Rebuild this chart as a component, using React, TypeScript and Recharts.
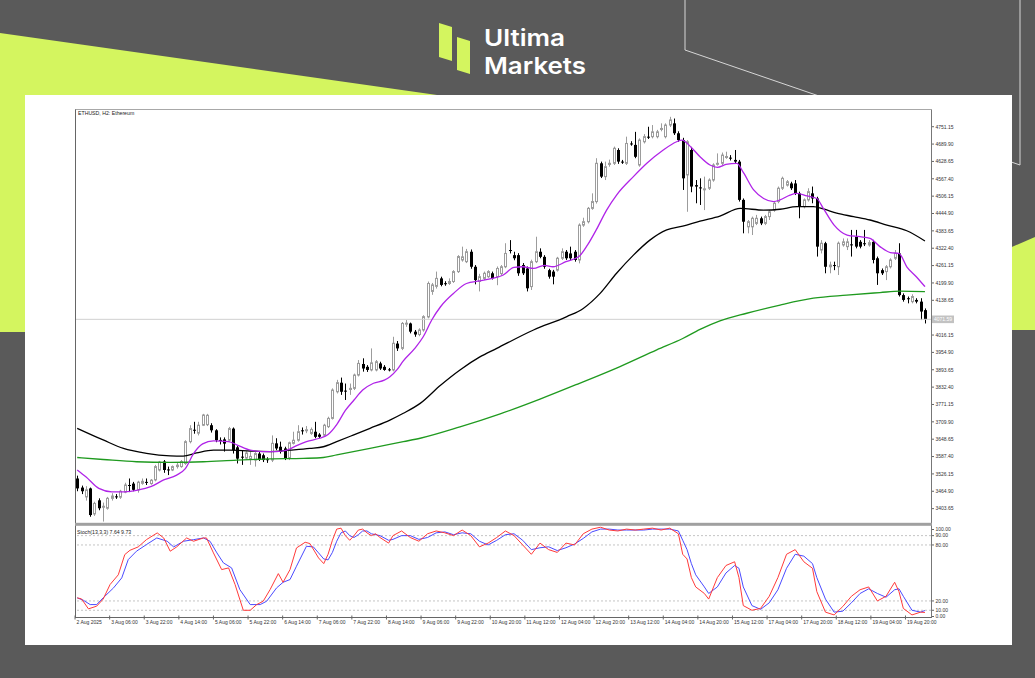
import React from 'react';
import { ComposedChart, LineChart, Bar, Line, XAxis, YAxis, ReferenceLine } from 'recharts';

const W = 1035;
const H = 678;
const LEFT = 75;
const AXIS_X = 931;
const Y_AXIS_W = 40;
const RIGHT = W - AXIS_X - Y_AXIS_W;
const MAIN_TOP = 110;
const MAIN_BOTTOM = 522;
const STO_TOP = 526.3;
const STO_BOTTOM = 619.6;
const X_DOMAIN: [number, number] = [-0.51, 197.4];
const PRICE_DOMAIN: [number, number] = [3356.5, 4810.1];
const FONT = '"Liberation Sans", Arial, sans-serif';
const LIME = '#d4f55f';
const DARK = '#5a5a5a';

// ETHUSD H2 candles, [open, high, low, close], first bar = 2 Aug 2025
const candles: number[][] = [
  [3510, 3520, 3465, 3475], [3478, 3485, 3455, 3465], [3445, 3483, 3432, 3470], [3475, 3478, 3375, 3381],
  [3385, 3428, 3378, 3422], [3433, 3440, 3398, 3405], [3410, 3425, 3358, 3412], [3405, 3445, 3400, 3440],
  [3440, 3458, 3432, 3448], [3447, 3455, 3438, 3444], [3444, 3470, 3438, 3465], [3462, 3495, 3458, 3487],
  [3487, 3510, 3462, 3485], [3492, 3498, 3465, 3470], [3470, 3502, 3460, 3497], [3493, 3510, 3488, 3500],
  [3498, 3510, 3487, 3497], [3492, 3508, 3488, 3504], [3505, 3558, 3500, 3552], [3540, 3572, 3535, 3568],
  [3570, 3575, 3530, 3540], [3542, 3552, 3522, 3540], [3540, 3556, 3536, 3552], [3552, 3565, 3545, 3557],
  [3552, 3575, 3548, 3570], [3563, 3645, 3558, 3640], [3640, 3698, 3634, 3686], [3682, 3710, 3668, 3680],
  [3670, 3710, 3662, 3698], [3698, 3738, 3695, 3734], [3700, 3738, 3695, 3733], [3698, 3705, 3672, 3680],
  [3680, 3684, 3638, 3645], [3646, 3655, 3630, 3643], [3648, 3655, 3605, 3633], [3645, 3692, 3640, 3686],
  [3686, 3690, 3598, 3610], [3620, 3625, 3563, 3580], [3587, 3610, 3558, 3585], [3582, 3606, 3576, 3600],
  [3580, 3604, 3558, 3588], [3575, 3603, 3552, 3598], [3598, 3605, 3572, 3578], [3592, 3598, 3568, 3575],
  [3578, 3585, 3565, 3575], [3575, 3662, 3568, 3634], [3634, 3652, 3610, 3616], [3622, 3640, 3598, 3604],
  [3616, 3622, 3575, 3580], [3582, 3640, 3575, 3636], [3634, 3675, 3630, 3645], [3645, 3698, 3640, 3675],
  [3680, 3690, 3665, 3678], [3679, 3695, 3670, 3682], [3669, 3690, 3664, 3683], [3675, 3710, 3652, 3657],
  [3665, 3670, 3652, 3657], [3663, 3703, 3657, 3698], [3693, 3728, 3688, 3722], [3722, 3828, 3718, 3822],
  [3816, 3858, 3810, 3848], [3848, 3866, 3805, 3816], [3820, 3845, 3787, 3818], [3824, 3845, 3805, 3828],
  [3828, 3880, 3822, 3875], [3875, 3928, 3870, 3916], [3914, 3934, 3887, 3898], [3904, 3910, 3886, 3893],
  [3893, 3969, 3888, 3918], [3893, 3928, 3888, 3922], [3916, 3922, 3893, 3898], [3904, 3910, 3890, 3893],
  [3895, 3900, 3888, 3894], [3893, 4010, 3888, 3987], [3986, 3995, 3960, 3969], [3969, 4062, 3963, 4057],
  [4056, 4069, 4045, 4058], [4057, 4060, 4022, 4028], [4028, 4034, 4010, 4018], [4018, 4040, 4012, 4034],
  [4034, 4086, 4028, 4081], [4080, 4205, 4075, 4198], [4170, 4200, 4158, 4193], [4188, 4240, 4180, 4216],
  [4216, 4222, 4188, 4193], [4199, 4206, 4190, 4198], [4198, 4216, 4193, 4205], [4205, 4245, 4200, 4240],
  [4240, 4298, 4235, 4293], [4281, 4328, 4275, 4292], [4275, 4320, 4270, 4310], [4310, 4318, 4250, 4257],
  [4257, 4263, 4195, 4210], [4205, 4232, 4170, 4222], [4216, 4240, 4210, 4234], [4222, 4245, 4218, 4240],
  [4234, 4240, 4212, 4216], [4222, 4258, 4192, 4251], [4233, 4263, 4228, 4257], [4257, 4340, 4252, 4304],
  [4316, 4351, 4304, 4314], [4298, 4310, 4280, 4287], [4298, 4305, 4225, 4234], [4263, 4270, 4228, 4234],
  [4251, 4258, 4170, 4181], [4187, 4282, 4175, 4275], [4275, 4363, 4270, 4310], [4310, 4322, 4287, 4292],
  [4292, 4298, 4250, 4257], [4245, 4250, 4215, 4222], [4240, 4246, 4195, 4222], [4245, 4292, 4240, 4287],
  [4287, 4322, 4281, 4310], [4310, 4316, 4281, 4287], [4304, 4328, 4281, 4287], [4310, 4316, 4275, 4281],
  [4281, 4410, 4269, 4404], [4404, 4430, 4398, 4416], [4416, 4468, 4410, 4463], [4463, 4516, 4458, 4487],
  [4487, 4640, 4480, 4622], [4622, 4628, 4570, 4575], [4575, 4628, 4563, 4610], [4618, 4635, 4610, 4622],
  [4622, 4681, 4616, 4675], [4669, 4675, 4620, 4628], [4628, 4634, 4620, 4627], [4622, 4716, 4616, 4692],
  [4692, 4700, 4684, 4691], [4687, 4733, 4640, 4645], [4616, 4710, 4610, 4704], [4698, 4725, 4692, 4716],
  [4716, 4751, 4708, 4714], [4716, 4757, 4710, 4733], [4716, 4740, 4710, 4733], [4743, 4763, 4735, 4745],
  [4716, 4763, 4710, 4757], [4757, 4786, 4750, 4775], [4763, 4780, 4722, 4728], [4728, 4735, 4698, 4704],
  [4704, 4712, 4528, 4569], [4581, 4704, 4451, 4698], [4669, 4680, 4520, 4540], [4545, 4563, 4481, 4540],
  [4537, 4569, 4475, 4534], [4531, 4575, 4457, 4532], [4534, 4569, 4528, 4563], [4563, 4622, 4557, 4616],
  [4620, 4657, 4614, 4622], [4622, 4660, 4616, 4651], [4645, 4663, 4638, 4646], [4642, 4651, 4632, 4640],
  [4634, 4669, 4622, 4628], [4628, 4634, 4487, 4493], [4493, 4498, 4375, 4416], [4398, 4422, 4375, 4416],
  [4398, 4434, 4369, 4428], [4410, 4440, 4404, 4428], [4428, 4434, 4404, 4410], [4410, 4440, 4404, 4434],
  [4434, 4457, 4422, 4451], [4457, 4487, 4451, 4481], [4487, 4540, 4481, 4534], [4534, 4575, 4528, 4569],
  [4545, 4563, 4540, 4557], [4551, 4557, 4528, 4534], [4551, 4563, 4510, 4516], [4516, 4522, 4428, 4469],
  [4469, 4498, 4463, 4493], [4493, 4534, 4487, 4522], [4516, 4540, 4481, 4498], [4498, 4504, 4293, 4328],
  [4316, 4351, 4304, 4340], [4340, 4345, 4234, 4257], [4257, 4275, 4234, 4263], [4263, 4275, 4245, 4260],
  [4257, 4346, 4228, 4340], [4334, 4357, 4328, 4345], [4328, 4357, 4316, 4345], [4336, 4387, 4293, 4334],
  [4363, 4387, 4322, 4328], [4345, 4351, 4322, 4328], [4340, 4387, 4330, 4339], [4334, 4351, 4328, 4342],
  [4345, 4352, 4269, 4281], [4287, 4293, 4193, 4234], [4245, 4251, 4228, 4234], [4240, 4263, 4210, 4257],
  [4257, 4287, 4251, 4281], [4287, 4316, 4281, 4304], [4304, 4340, 4152, 4157], [4157, 4163, 4134, 4140],
  [4146, 4152, 4128, 4145], [4134, 4160, 4128, 4152], [4140, 4146, 4128, 4134], [4134, 4146, 4069, 4099],
  [4104, 4110, 4057, 4072],
];

// one label every 8 bars (16 hours)
const timeLabels = [
  '2 Aug 2025', '3 Aug 06:00', '3 Aug 22:00', '4 Aug 14:00', '5 Aug 06:00', '5 Aug 22:00', '6 Aug 14:00',
  '7 Aug 06:00', '7 Aug 22:00', '8 Aug 14:00', '9 Aug 06:00', '9 Aug 22:00', '10 Aug 20:00', '11 Aug 12:00',
  '12 Aug 04:00', '12 Aug 20:00', '13 Aug 12:00', '14 Aug 04:00', '14 Aug 20:00', '15 Aug 12:00',
  '17 Aug 04:00', '17 Aug 20:00', '18 Aug 12:00', '19 Aug 04:00', '19 Aug 20:00',
];
const timeTickPos = timeLabels.map((_, k) => k * 8 - 0.5);

const priceTicks = [
  3403.65, 3464.9, 3526.15, 3587.4, 3648.65, 3709.9, 3771.15, 3832.4, 3893.65, 3954.9, 4016.15,
  4138.65, 4199.9, 4261.15, 4322.4, 4383.65, 4444.9, 4506.15, 4567.4, 4628.65, 4689.9, 4751.15,
];
const lastPrice = 4071.59;

// moving averages, [bar, price]
const maFast: number[][] = [
  [0, 3540], [2, 3516], [5, 3475], [8, 3463], [11, 3463], [14, 3469], [17, 3481], [20, 3505], [23, 3522],
  [25, 3545], [27, 3600], [29, 3632], [31.5, 3643], [35, 3640], [37, 3628], [40, 3610], [43, 3605], [46, 3605],
  [48.5, 3610], [51, 3628], [53, 3640], [56, 3652], [58, 3665], [60, 3700], [62, 3750], [64, 3787], [66, 3822],
  [68.5, 3846], [71, 3857], [72.3, 3869], [74, 3895], [75.4, 3925], [78, 3968], [80, 4010], [82, 4070],
  [84, 4116], [87, 4163], [90, 4198], [93, 4207], [96, 4216], [98.5, 4228], [101, 4255], [103, 4257],
  [105.5, 4251], [108, 4262], [110, 4257], [113, 4275], [116, 4293], [118, 4334], [120, 4387], [122.4, 4457],
  [124.7, 4510], [128.6, 4575], [131.7, 4622], [135.5, 4669], [138.6, 4698], [139.8, 4704], [142, 4678],
  [144, 4645], [146.3, 4616], [148, 4608], [150, 4618], [152.5, 4622], [154, 4590], [156.4, 4528],
  [158.7, 4498], [161, 4487], [162.5, 4493], [164.8, 4510], [166.4, 4516], [168.7, 4507], [171, 4498],
  [172.5, 4463], [175, 4404], [178, 4369], [181, 4363], [183.3, 4357], [185.6, 4328], [188, 4307], [190, 4304],
  [191.8, 4257], [194, 4222], [196, 4187],
];
const maMid: number[][] = [
  [0, 3687], [6, 3646], [10.7, 3616], [16, 3599], [21.5, 3590], [24.5, 3589], [27.6, 3600], [31.5, 3610],
  [35.3, 3610], [40, 3607], [44.6, 3605], [49.2, 3610], [53.8, 3616], [56.9, 3622], [60, 3640], [63.8, 3663],
  [67.7, 3687], [72.3, 3716], [75.4, 3740], [79.3, 3775], [84, 3839], [88.5, 3893], [93, 3938], [97, 3969],
  [105.5, 4034], [113.2, 4081], [117, 4110], [120.9, 4163], [124.7, 4234], [128.6, 4298], [132.4, 4351],
  [136.3, 4387], [140, 4400], [144, 4418], [148.6, 4436], [153.3, 4463], [158.7, 4457], [162.5, 4460],
  [166.4, 4469], [170.2, 4469], [172.5, 4461], [175.6, 4446], [179.5, 4434], [183.3, 4422], [187.2, 4404],
  [191.8, 4384], [196, 4348],
];
const maSlow: number[][] = [
  [0, 3584], [6, 3577], [13.7, 3569], [21.5, 3567], [29.2, 3569], [36.9, 3575], [44.6, 3579], [52.3, 3581],
  [56.9, 3584], [60, 3593], [67.7, 3616], [75.4, 3640], [79.3, 3652], [88.5, 3692], [97.8, 3738], [107, 3790],
  [116, 3845], [125.5, 3905], [134, 3964], [140, 4004], [144, 4036], [148.6, 4066], [154.8, 4093],
  [162.5, 4122], [170.2, 4146], [177.9, 4157], [185.6, 4166], [190.2, 4171], [196, 4169],
];

// Stochastic(13,3,3), [bar, value]
const stochMain: number[][] = [
  [0, 23.3], [1, 22.2], [2.6, 11.5], [4.5, 14.4], [6, 22], [7.6, 37.6], [9.5, 48], [11, 69.7], [12.2, 74.3],
  [14.1, 77.9], [16, 85.7], [18.5, 92.9], [20, 87.5], [21.5, 73.3], [23, 77.9], [25.3, 87.5], [26.9, 84],
  [29.2, 87.5], [29.9, 87.5], [31.5, 71.5], [33.4, 53.6], [35, 55.4], [36.5, 37.6], [38.4, 10], [40, 10],
  [41.5, 16.1], [43, 19.7], [44.6, 32.2], [46.5, 49.3], [47.6, 40], [49.2, 53.6], [50.7, 76.8], [52.7, 82.9],
  [53.8, 81.5], [55.8, 66.1], [57, 60], [58, 70], [59, 85], [60, 97], [61, 98], [62, 90], [63, 85], [64, 90],
  [65, 96], [66, 97], [67, 93], [68, 90], [69, 92], [70, 88], [72, 82], [73, 90], [75, 95], [77, 88], [79, 84],
  [81, 92], [83, 95], [85, 93], [87, 90], [89, 96], [91, 90], [93, 78], [95, 82], [97, 88], [99, 95], [101, 90],
  [103, 80], [105, 70], [107, 82], [109, 75], [111, 72], [113, 82], [115, 80], [117, 92], [119, 97], [121, 99],
  [123, 96], [125, 95], [127, 97], [129, 96], [131, 97], [133, 98], [135, 96], [137, 98], [139, 92], [140, 70],
  [141, 65], [142, 45], [143, 35], [145, 28], [146, 22], [148, 45], [150, 58], [152, 62], [153, 45], [154, 15],
  [156, 10], [158, 12], [160, 25], [162, 45], [164, 70], [166, 75], [168, 62], [170, 55], [171, 30], [173, 8],
  [175, 5], [177, 14], [179, 25], [181, 32], [183, 35], [185, 20], [187, 25], [189, 40], [190, 30], [191, 12],
  [193, 5], [195, 8], [196, 7.64],
];
const stochSignal: number[][] = [
  [0, 23.3], [1.4, 20.8], [3, 16.1], [4.5, 16.1], [6, 23.3], [8.4, 34], [10.3, 44.7], [11.8, 64.3], [13.7, 73.3],
  [16, 80.4], [18.4, 87.5], [20.8, 84], [22.3, 77.9], [24.6, 84], [26.9, 85.7], [29.2, 87.5], [30.7, 84],
  [32.3, 71.5], [33.8, 60.8], [35.7, 55.4], [37.6, 32.2], [40, 16.1], [42.3, 16.1], [43.8, 19.7], [46.1, 34],
  [47.6, 40], [49.2, 42.9], [50.7, 57.2], [53, 78.6], [54.6, 77.9], [55.8, 71.5], [57, 65], [58, 64], [59, 72],
  [60, 84], [61, 93], [62, 95], [63, 90], [64, 88], [65, 91], [66, 95], [67, 95], [68, 92], [70, 90], [72, 85],
  [73, 86], [75, 90], [77, 90], [79, 86], [81, 88], [83, 93], [85, 94], [87, 91], [89, 93], [91, 92], [93, 84],
  [95, 80], [97, 85], [99, 91], [101, 92], [103, 85], [105, 75], [107, 77], [109, 78], [111, 74], [113, 77],
  [115, 81], [117, 87], [119, 94], [121, 97], [123, 97], [125, 96], [127, 96], [129, 96], [131, 96], [133, 97],
  [135, 97], [137, 97], [139, 95], [140, 85], [141, 75], [142, 60], [143, 48], [145, 35], [146, 28], [148, 35],
  [150, 50], [152, 58], [153, 55], [154, 35], [156, 15], [158, 11], [160, 18], [162, 32], [164, 55], [166, 70],
  [168, 68], [170, 60], [171, 45], [173, 22], [175, 8], [177, 9], [179, 18], [181, 28], [183, 33], [185, 28],
  [187, 24], [189, 32], [190, 33], [191, 25], [193, 10], [195, 8], [196, 9.73],
];
const stochTicks = [100, 90, 80, 20, 10, 0];
const stochLevels = [90, 80, 20, 10];

const candleData = candles.map(([o, h, l, c], i) => ({ x: i, o, h, l, c, range: [l, h] }));
const toSeries = (pts: number[][]) => pts.map(([x, v]) => ({ x, v }));

const Candle = (props: any) => {
  const { x, y, width, height, payload } = props;
  if (x == null || y == null || !payload) return null;
  const { o, h, l, c } = payload;
  const top = Math.min(y, y + height);
  const span = Math.abs(height);
  const k = h > l ? span / (h - l) : 0;
  const yO = top + (h - o) * k;
  const yC = top + (h - c) * k;
  const cx = Math.round(x + width / 2) + 0.5;
  const up = c >= o;
  const bTop = Math.min(yO, yC);
  const bH = Math.max(Math.abs(yO - yC), 1);
  if (up) {
    return (
      <g>
        <line x1={cx} x2={cx} y1={top} y2={top + span} stroke="#9c9c9c" />
        <rect x={cx - 1} y={bTop} width={2} height={bH} fill="#fff" stroke="#9c9c9c" />
      </g>
    );
  }
  return (
    <g>
      <line x1={cx} x2={cx} y1={top} y2={top + span} stroke="#000" />
      <rect x={cx - 1.5} y={bTop} width={3} height={bH} fill="#000" />
    </g>
  );
};

const PriceTick = (props: any) => {
  const { x, y, payload } = props;
  const v = payload.value;
  if (v === lastPrice) {
    return (
      <g>
        <rect x={x} y={y - 3.8} width={23} height={7.6} fill="#c2c2c2" />
        <text x={x + 3} y={y + 1.8} fontSize={5} fontFamily={FONT} fill="#fff">{v.toFixed(2)}</text>
      </g>
    );
  }
  return (
    <g>
      <line x1={x} x2={x + 3} y1={y} y2={y} stroke="#666" />
      <text x={x + 4.5} y={y + 1.8} fontSize={5} fontFamily={FONT} fill="#333">{v.toFixed(2)}</text>
    </g>
  );
};

const StochTick = (props: any) => {
  const { x, y, payload } = props;
  const ty = Math.min(Math.max(y, 529.5), 616.5);
  return (
    <g>
      <line x1={x} x2={x + 3} y1={ty} y2={ty} stroke="#666" />
      <text x={x + 4.5} y={ty + 1.8} fontSize={5} fontFamily={FONT} fill="#333">{payload.value.toFixed(2)}</text>
    </g>
  );
};

const TimeTick = (props: any) => {
  const { x, y, payload } = props;
  const idx = Math.round((payload.value + 0.5) / 8);
  return (
    <g>
      <line x1={x} x2={x} y1={y - 2} y2={y + 2} stroke="#666" />
      <text x={x + 1.5} y={y + 6.6} fontSize={5} fontFamily={FONT} fill="#333">{timeLabels[idx]}</text>
    </g>
  );
};

const Backdrop = () => (
  <svg width={W} height={H} style={{ position: 'absolute', left: 0, top: 0 }}>
    <rect width={W} height={H} fill={DARK} />
    <polygon points="0,33 437,95 437,332 0,332" fill={LIME} />
    <polygon points="1005,250 1035,237 1035,330 1005,330" fill={LIME} />
    <polyline points="685,0 685,50 1020,165 1020,0" fill="none" stroke="#d6d6d6" strokeWidth={1} />
    <rect x={25} y={95} width={987} height={550} fill="#fff" />
    <polygon points="439,23 452,27 452,61 439,57" fill={LIME} />
    <polygon points="457,37 470,41 470,74 457,70" fill={LIME} />
    <text x={484} y={45.5} fontSize={23} fontWeight={600} fontFamily="Inter, sans-serif" fill="#fff"
      textLength={81} lengthAdjust="spacingAndGlyphs">Ultima</text>
    <text x={484} y={73.5} fontSize={23} fontWeight={600} fontFamily="Inter, sans-serif" fill="#fff"
      textLength={102} lengthAdjust="spacingAndGlyphs">Markets</text>
  </svg>
);

const Frame = () => (
  <svg width={W} height={H} style={{ position: 'absolute', left: 0, top: 0, pointerEvents: 'none' }}>
    <line x1={LEFT} x2={AXIS_X + 0.5} y1={109.5} y2={109.5} stroke="#a8a8a8" />
    <line x1={LEFT + 0.5} x2={LEFT + 0.5} y1={109.5} y2={618} stroke="#666" />
    <line x1={AXIS_X + 0.5} x2={AXIS_X + 0.5} y1={109.5} y2={618} stroke="#777" />
    <rect x={LEFT} y={522.8} width={AXIS_X - LEFT + 1} height={3} fill="#a0a0a0" />
    <line x1={LEFT} x2={AXIS_X + 0.5} y1={617.5} y2={617.5} stroke="#666" />
    <text x={78} y={115} fontSize={5.2} fontFamily={FONT} fill="#222">ETHUSD, H2: Ethereum</text>
    <text x={77} y={533.5} fontSize={5.2} fontFamily={FONT} fill="#222">Stoch(13,3,3) 7.64 9.73</text>
  </svg>
);

export default function App() {
  return (
    <div style={{ position: 'absolute', left: 0, top: 0, width: W, height: H, overflow: 'hidden', background: DARK }}>
      <Backdrop />
      <div style={{ position: 'absolute', left: 0, top: 0 }}>
        <ComposedChart
          width={W}
          height={H}
          data={candleData}
          margin={{ top: MAIN_TOP, bottom: H - MAIN_BOTTOM, left: LEFT, right: RIGHT }}
        >
          <XAxis dataKey="x" type="number" domain={X_DOMAIN} allowDataOverflow hide />
          <YAxis
            orientation="right"
            width={Y_AXIS_W}
            domain={PRICE_DOMAIN}
            allowDataOverflow
            ticks={[...priceTicks, lastPrice]}
            interval={0}
            tick={(p: any) => <PriceTick {...p} />}
            tickLine={false}
            tickSize={0}
            tickMargin={0}
            axisLine={false}
          />
          <ReferenceLine y={lastPrice} stroke="#d0d0d0" />
          <Bar dataKey="range" barSize={3} shape={(p: any) => <Candle {...p} />} isAnimationActive={false} />
          <Line data={toSeries(maSlow)} dataKey="v" type="monotone" stroke="#1f9a1f" strokeWidth={1.3} dot={false} isAnimationActive={false} />
          <Line data={toSeries(maMid)} dataKey="v" type="monotone" stroke="#000" strokeWidth={1.3} dot={false} isAnimationActive={false} />
          <Line data={toSeries(maFast)} dataKey="v" type="monotone" stroke="#b024e8" strokeWidth={1.3} dot={false} isAnimationActive={false} />
        </ComposedChart>
      </div>
      <div style={{ position: 'absolute', left: 0, top: 0 }}>
        <LineChart
          width={W}
          height={H}
          margin={{ top: STO_TOP, bottom: H - STO_BOTTOM - 20, left: LEFT, right: RIGHT }}
        >
          <XAxis
            dataKey="x"
            type="number"
            domain={X_DOMAIN}
            allowDataOverflow
            ticks={timeTickPos}
            interval={0}
            height={20}
            tick={(p: any) => <TimeTick {...p} y={617.5} />}
            tickLine={false}
            tickSize={0}
            tickMargin={0}
            axisLine={false}
          />
          <YAxis
            orientation="right"
            width={Y_AXIS_W}
            domain={[0, 100]}
            allowDataOverflow
            ticks={stochTicks}
            interval={0}
            tick={(p: any) => <StochTick {...p} />}
            tickLine={false}
            tickSize={0}
            tickMargin={0}
            axisLine={false}
          />
          {stochLevels.map((lv) => (
            <ReferenceLine key={lv} y={lv} stroke="#c4c4c4" strokeDasharray="2 2" />
          ))}
          <Line data={toSeries(stochSignal)} dataKey="v" type="linear" stroke="#4a4aff" strokeWidth={1} dot={false} isAnimationActive={false} />
          <Line data={toSeries(stochMain)} dataKey="v" type="linear" stroke="#ff3a3a" strokeWidth={1} dot={false} isAnimationActive={false} />
        </LineChart>
      </div>
      <Frame />
    </div>
  );
}
